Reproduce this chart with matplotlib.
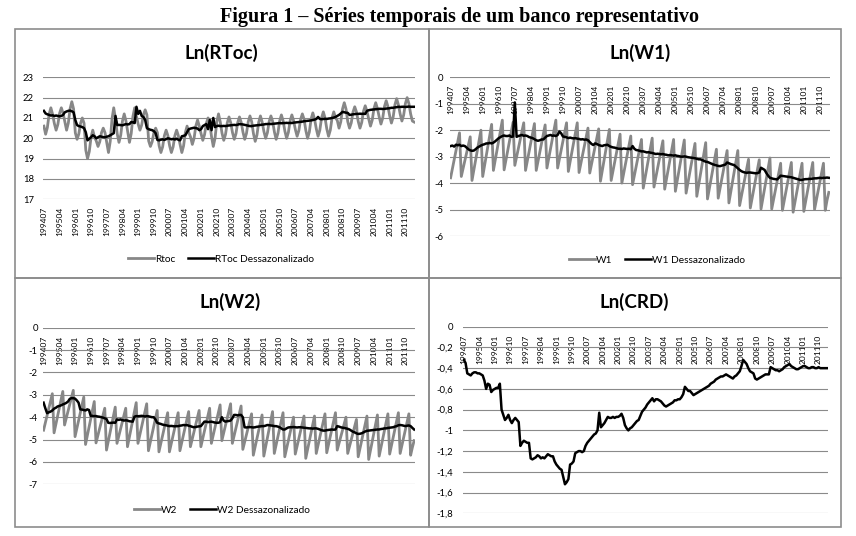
import matplotlib.pyplot as plt
from matplotlib.patches import Rectangle

# category labels shown on the x axis (every 9th month, 199407 .. 201110)
month_labels = ['199407', '199504', '199601', '199610', '199707', '199804',
                '199901', '199910', '200007', '200104', '200201', '200210',
                '200307', '200404', '200501', '200510', '200607', '200704',
                '200801', '200810', '200907', '201004', '201101', '201110']

# Ln(RToc) - monthly values, 199407 .. 201203
rtoc = [20.60, 20.20, 20.53, 21.18, 21.50, 21.18,
        20.73, 20.40, 20.68, 21.23, 21.50, 21.23,
        20.82, 20.40, 20.75, 21.45, 21.80, 21.45,
        20.27, 19.95, 20.21, 20.74, 21.00, 20.74,
        19.42, 19.00, 19.35, 20.05, 20.40, 20.05,
        19.87, 19.60, 19.83, 20.28, 20.50, 20.28,
        19.80, 19.30, 19.85, 20.95, 21.50, 20.95,
        20.22, 19.80, 20.15, 20.85, 21.20, 20.85,
        20.31, 19.80, 20.23, 21.08, 21.50, 21.08,
        20.70, 20.40, 20.65, 21.15, 21.40, 21.15,
        19.87, 19.60, 19.83, 20.28, 20.50, 20.28,
        19.63, 19.30, 19.58, 20.13, 20.40, 20.13,
        19.63, 19.30, 19.58, 20.13, 20.40, 20.13,
        19.69, 19.30, 19.63, 20.28, 20.60, 20.28,
        20.06, 19.70, 20.00, 20.60, 20.90, 20.60,
        20.23, 19.90, 20.18, 20.73, 21.00, 20.73,
        20.08, 19.60, 20.00, 20.80, 21.20, 20.80,
        20.25, 19.90, 20.19, 20.76, 21.05, 20.76,
        20.28, 19.95, 20.23, 20.78, 21.05, 20.78,
        20.30, 19.95, 20.24, 20.81, 21.10, 20.81,
        20.23, 19.85, 20.16, 20.79, 21.10, 20.79,
        20.33, 20.00, 20.28, 20.83, 21.10, 20.83,
        20.31, 19.95, 20.25, 20.85, 21.15, 20.85,
        20.35, 20.00, 20.29, 20.86, 21.15, 20.86,
        20.43, 20.10, 20.38, 20.93, 21.20, 20.93,
        20.38, 20.00, 20.31, 20.94, 21.25, 20.94,
        20.46, 20.10, 20.40, 21.00, 21.30, 21.00,
        20.46, 20.10, 20.40, 21.00, 21.30, 21.00,
        20.88, 20.50, 20.81, 21.44, 21.75, 21.44,
        20.82, 20.50, 20.76, 21.29, 21.55, 21.29,
        20.83, 20.50, 20.78, 21.33, 21.60, 21.33,
        20.95, 20.60, 20.89, 21.46, 21.75, 21.46,
        21.05, 20.70, 20.99, 21.56, 21.85, 21.56,
        21.11, 20.75, 21.05, 21.65, 21.95, 21.65,
        21.20, 20.85, 21.14, 21.71, 22.00, 21.71,
        21.20, 20.85, 20.80]

rtoc_sa = [21.35, 21.22, 21.18, 21.15, 21.12, 21.13,
           21.10, 21.12, 21.10, 21.08, 21.10, 21.15,
           21.28, 21.32, 21.35, 21.36, 21.33, 21.28,
           20.90, 20.65, 20.60, 20.58, 20.55, 20.50,
           20.30, 19.90, 19.98, 20.05, 20.15, 20.10,
           20.00, 20.05, 20.10, 20.08, 20.06, 20.05,
           20.08, 20.10, 20.15, 20.20, 20.25, 21.10,
           20.65, 20.66, 20.65, 20.64, 20.67, 20.70,
           20.68, 20.70, 20.80, 20.78, 20.75, 21.55,
           21.20, 21.35, 21.10, 21.05, 20.90, 20.50,
           20.45, 20.42, 20.40, 20.35, 20.25, 19.92,
           19.90, 19.93, 19.95, 19.92, 19.96, 20.00,
           19.98, 19.95, 19.97, 19.94, 19.98, 19.93,
           19.90, 20.10, 20.12, 20.15, 20.30, 20.45,
           20.48, 20.50, 20.52, 20.50, 20.48, 20.40,
           20.45, 20.60, 20.65, 20.70, 20.45, 20.90,
           20.40, 21.00, 20.55, 20.60, 20.62, 20.60,
           20.60, 20.61, 20.60, 20.62, 20.63, 20.64,
           20.65, 20.66, 20.65, 20.67, 20.70, 20.69,
           20.68, 20.66, 20.64, 20.62, 20.60, 20.60,
           20.62, 20.63, 20.64, 20.65, 20.66, 20.67,
           20.68, 20.70, 20.70, 20.71, 20.70, 20.71,
           20.72, 20.73, 20.74, 20.75, 20.74, 20.75,
           20.75, 20.76, 20.75, 20.76, 20.75, 20.77,
           20.78, 20.79, 20.80, 20.81, 20.82, 20.84,
           20.85, 20.86, 20.87, 20.88, 20.90, 20.92,
           20.95, 21.05, 20.95, 20.94, 20.95, 20.96,
           20.95, 20.97, 20.98, 21.00, 21.02, 21.05,
           21.10, 21.15, 21.22, 21.30, 21.28, 21.26,
           21.25, 21.15, 21.16, 21.18, 21.19, 21.20,
           21.20, 21.21, 21.20, 21.21, 21.20, 21.35,
           21.38, 21.40, 21.41, 21.42, 21.43, 21.44,
           21.45, 21.45, 21.44, 21.45, 21.46, 21.47,
           21.48, 21.50, 21.50, 21.52, 21.53, 21.55,
           21.54, 21.55, 21.55, 21.54, 21.55, 21.56,
           21.55, 21.55, 21.55]

# Ln(W1)
w1 = [-3.80, -3.46, -3.12, -2.78, -2.44, -2.10,
      -3.75, -3.45, -3.15, -2.85, -2.55, -2.25,
      -3.90, -3.52, -3.14, -2.76, -2.38, -2.00,
      -3.75, -3.36, -2.96, -2.57, -2.17, -1.78,
      -3.52, -3.14, -2.76, -2.38, -2.00, -1.62,
      -3.50, -3.14, -2.78, -2.42, -2.06, -1.70,
      -3.33, -3.01, -2.69, -2.36, -2.04, -1.72,
      -3.52, -3.17, -2.81, -2.46, -2.10, -1.75,
      -3.52, -3.18, -2.83, -2.49, -2.14, -1.80,
      -3.43, -3.07, -2.71, -2.34, -1.98, -1.62,
      -3.43, -3.09, -2.75, -2.40, -2.06, -1.72,
      -3.56, -3.19, -2.82, -2.46, -2.09, -1.72,
      -3.60, -3.26, -2.93, -2.59, -2.26, -1.92,
      -3.62, -3.29, -2.95, -2.62, -2.28, -1.95,
      -3.93, -3.54, -3.15, -2.75, -2.36, -1.97,
      -3.90, -3.55, -3.20, -2.85, -2.50, -2.15,
      -4.00, -3.64, -3.29, -2.93, -2.58, -2.22,
      -4.06, -3.72, -3.38, -3.03, -2.69, -2.35,
      -4.19, -3.81, -3.43, -3.06, -2.68, -2.30,
      -4.15, -3.80, -3.45, -3.10, -2.75, -2.40,
      -4.23, -3.85, -3.48, -3.10, -2.73, -2.35,
      -4.31, -3.92, -3.53, -3.15, -2.76, -2.37,
      -4.38, -4.00, -3.63, -3.25, -2.88, -2.50,
      -4.50, -4.09, -3.69, -3.28, -2.88, -2.47,
      -4.60, -4.22, -3.85, -3.47, -3.10, -2.72,
      -4.57, -4.21, -3.85, -3.49, -3.13, -2.77,
      -4.75, -4.35, -3.96, -3.56, -3.17, -2.77,
      -4.85, -4.50, -4.15, -3.80, -3.45, -3.10,
      -4.94, -4.58, -4.21, -3.85, -3.48, -3.12,
      -4.98, -4.59, -4.20, -3.82, -3.43, -3.05,
      -4.98, -4.63, -4.29, -3.94, -3.60, -3.25,
      -5.03, -4.67, -4.31, -3.94, -3.58, -3.22,
      -5.10, -4.73, -4.36, -3.99, -3.62, -3.25,
      -5.07, -4.70, -4.33, -3.96, -3.59, -3.22,
      -5.00, -4.65, -4.30, -3.95, -3.60, -3.25,
      -5.03, -4.65, -4.35]

w1_sa = [-2.60, -2.58, -2.62, -2.55, -2.57, -2.55,
         -2.60, -2.58, -2.60, -2.66, -2.72, -2.76,
         -2.78, -2.77, -2.72, -2.66, -2.62, -2.58,
         -2.55, -2.53, -2.50, -2.50, -2.48, -2.50,
         -2.47, -2.42, -2.36, -2.30, -2.26, -2.22,
         -2.20, -2.22, -2.22, -2.20, -2.25, -2.24,
         -0.95, -2.25, -2.22, -2.20, -2.18, -2.21,
         -2.20, -2.22, -2.26, -2.28, -2.30, -2.34,
         -2.38, -2.40, -2.38, -2.35, -2.35, -2.28,
         -2.22, -2.20, -2.18, -2.21, -2.20, -2.22,
         -2.18, -2.05, -2.12, -2.24, -2.25, -2.27,
         -2.30, -2.28, -2.30, -2.31, -2.30, -2.32,
         -2.33, -2.35, -2.34, -2.36, -2.35, -2.38,
         -2.45, -2.52, -2.56, -2.50, -2.52, -2.56,
         -2.58, -2.60, -2.57, -2.56, -2.55, -2.60,
         -2.63, -2.65, -2.66, -2.68, -2.70, -2.70,
         -2.71, -2.69, -2.70, -2.71, -2.70, -2.72,
         -2.60, -2.70, -2.75, -2.76, -2.78, -2.80,
         -2.80, -2.82, -2.84, -2.83, -2.85, -2.86,
         -2.88, -2.90, -2.89, -2.90, -2.91, -2.90,
         -2.92, -2.93, -2.95, -2.94, -2.95, -2.96,
         -2.95, -2.97, -2.98, -3.00, -3.00, -2.99,
         -3.00, -3.02, -3.03, -3.04, -3.05, -3.06,
         -3.08, -3.10, -3.10, -3.13, -3.16, -3.19,
         -3.20, -3.23, -3.26, -3.29, -3.31, -3.33,
         -3.35, -3.36, -3.34, -3.32, -3.30, -3.22,
         -3.25, -3.28, -3.30, -3.32, -3.38, -3.44,
         -3.50, -3.55, -3.58, -3.60, -3.61, -3.60,
         -3.60, -3.61, -3.62, -3.63, -3.62, -3.60,
         -3.42, -3.46, -3.50, -3.62, -3.72, -3.80,
         -3.82, -3.84, -3.85, -3.86, -3.80, -3.72,
         -3.73, -3.74, -3.75, -3.76, -3.77, -3.78,
         -3.80, -3.82, -3.84, -3.86, -3.88, -3.88,
         -3.86, -3.85, -3.85, -3.84, -3.84, -3.83,
         -3.82, -3.82, -3.81, -3.80, -3.81, -3.80,
         -3.80, -3.79, -3.80]

# Ln(W2)
w2 = [-4.58, -4.25, -3.93, -3.60, -3.28, -2.95,
      -4.70, -4.33, -3.96, -3.59, -3.22, -2.85,
      -4.35, -4.04, -3.73, -3.42, -3.11, -2.80,
      -4.87, -4.52, -4.16, -3.81, -3.45, -3.10,
      -5.22, -4.84, -4.45, -4.07, -3.68, -3.30,
      -5.15, -4.84, -4.53, -4.22, -3.91, -3.60,
      -5.47, -5.09, -4.70, -4.32, -3.93, -3.55,
      -5.17, -4.86, -4.54, -4.23, -3.91, -3.60,
      -5.32, -4.93, -4.53, -4.14, -3.74, -3.35,
      -5.17, -4.82, -4.46, -4.11, -3.75, -3.40,
      -5.50, -5.14, -4.78, -4.42, -4.06, -3.70,
      -5.55, -5.20, -4.85, -4.50, -4.15, -3.80,
      -5.55, -5.20, -4.85, -4.50, -4.15, -3.80,
      -5.50, -5.15, -4.80, -4.45, -4.10, -3.75,
      -5.32, -5.00, -4.67, -4.35, -4.02, -3.70,
      -5.32, -4.98, -4.63, -4.29, -3.94, -3.60,
      -5.17, -4.83, -4.48, -4.14, -3.79, -3.45,
      -5.05, -4.72, -4.39, -4.06, -3.73, -3.40,
      -5.17, -4.84, -4.50, -4.17, -3.83, -3.50,
      -5.44, -5.12, -4.80, -4.49, -4.17, -3.85,
      -5.70, -5.34, -4.98, -4.62, -4.26, -3.90,
      -5.74, -5.34, -4.94, -4.55, -4.15, -3.75,
      -5.62, -5.26, -4.89, -4.53, -4.16, -3.80,
      -5.77, -5.42, -5.06, -4.71, -4.35, -4.00,
      -5.65, -5.31, -4.97, -4.63, -4.29, -3.95,
      -5.84, -5.46, -5.08, -4.71, -4.33, -3.95,
      -5.62, -5.27, -4.91, -4.56, -4.20, -3.85,
      -5.59, -5.23, -4.87, -4.52, -4.16, -3.80,
      -5.47, -5.18, -4.88, -4.59, -4.29, -4.00,
      -5.62, -5.32, -5.01, -4.71, -4.40, -4.10,
      -5.77, -5.41, -5.04, -4.68, -4.31, -3.95,
      -5.89, -5.49, -5.09, -4.70, -4.30, -3.90,
      -5.74, -5.36, -4.98, -4.61, -4.23, -3.85,
      -5.65, -5.28, -4.91, -4.54, -4.17, -3.80,
      -5.62, -5.27, -4.91, -4.56, -4.20, -3.85,
      -5.70, -5.35, -5.05]

w2_sa = [-3.35, -3.60, -3.82, -3.78, -3.75, -3.70,
         -3.62, -3.58, -3.52, -3.50, -3.47, -3.43,
         -3.40, -3.36, -3.30, -3.18, -3.15, -3.15,
         -3.17, -3.25, -3.35, -3.65, -3.66, -3.68,
         -3.70, -3.65, -3.68, -3.95, -3.94, -3.95,
         -3.95, -3.97, -3.98, -4.00, -4.02, -4.05,
         -4.08, -4.25, -4.26, -4.25, -4.24, -4.25,
         -4.10, -4.12, -4.10, -4.13, -4.15, -4.14,
         -4.15, -4.18, -4.19, -4.20, -3.98, -3.95,
         -3.96, -3.95, -3.94, -3.95, -3.97, -3.95,
         -3.96, -3.98, -4.00, -4.00, -4.10, -4.25,
         -4.28, -4.30, -4.33, -4.35, -4.36, -4.38,
         -4.40, -4.39, -4.40, -4.41, -4.40, -4.40,
         -4.38, -4.37, -4.35, -4.36, -4.35, -4.38,
         -4.40, -4.43, -4.45, -4.44, -4.42, -4.41,
         -4.40, -4.30, -4.20, -4.20, -4.22, -4.21,
         -4.20, -4.22, -4.24, -4.25, -4.25, -4.22,
         -4.00, -4.15, -4.20, -4.18, -4.17, -4.15,
         -4.05, -3.90, -3.90, -3.92, -3.90, -3.90,
         -4.00, -4.45, -4.46, -4.45, -4.44, -4.45,
         -4.46, -4.45, -4.43, -4.42, -4.41, -4.40,
         -4.40, -4.38, -4.35, -4.36, -4.37, -4.38,
         -4.40, -4.40, -4.42, -4.45, -4.50, -4.55,
         -4.55, -4.50, -4.46, -4.45, -4.45, -4.44,
         -4.45, -4.46, -4.45, -4.45, -4.46, -4.47,
         -4.48, -4.49, -4.50, -4.50, -4.51, -4.50,
         -4.50, -4.52, -4.55, -4.58, -4.60, -4.60,
         -4.58, -4.57, -4.56, -4.55, -4.56, -4.55,
         -4.40, -4.42, -4.45, -4.47, -4.48, -4.50,
         -4.52, -4.55, -4.60, -4.65, -4.68, -4.72,
         -4.75, -4.74, -4.72, -4.68, -4.64, -4.61,
         -4.60, -4.59, -4.58, -4.57, -4.56, -4.55,
         -4.55, -4.53, -4.52, -4.50, -4.50, -4.48,
         -4.47, -4.46, -4.45, -4.42, -4.40, -4.36,
         -4.35, -4.36, -4.38, -4.40, -4.38, -4.37,
         -4.40, -4.48, -4.55]

# Ln(CRD)
crd = [-0.32, -0.35, -0.45, -0.46, -0.47, -0.45,
       -0.44, -0.44, -0.45, -0.45, -0.46, -0.47,
       -0.52, -0.60, -0.55, -0.56, -0.63, -0.61,
       -0.60, -0.59, -0.59, -0.55, -0.80, -0.85,
       -0.90, -0.88, -0.85, -0.90, -0.93, -0.90,
       -0.88, -0.90, -0.92, -1.15, -1.12, -1.10,
       -1.11, -1.12, -1.12, -1.27, -1.28, -1.27,
       -1.26, -1.24, -1.25, -1.27, -1.26, -1.27,
       -1.25, -1.23, -1.24, -1.25, -1.25, -1.30,
       -1.33, -1.35, -1.37, -1.38, -1.45, -1.52,
       -1.50, -1.47, -1.33, -1.32, -1.30, -1.22,
       -1.21, -1.20, -1.20, -1.21, -1.20, -1.15,
       -1.12, -1.10, -1.08, -1.06, -1.04, -1.03,
       -1.00, -0.83, -0.97, -0.95, -0.93, -0.90,
       -0.87, -0.88, -0.88, -0.87, -0.88, -0.87,
       -0.87, -0.86, -0.84, -0.88, -0.95, -0.98,
       -1.00, -0.98, -0.97, -0.95, -0.93, -0.91,
       -0.90, -0.86, -0.82, -0.80, -0.78, -0.75,
       -0.73, -0.71, -0.69, -0.72, -0.70, -0.70,
       -0.71, -0.72, -0.74, -0.76, -0.77, -0.76,
       -0.75, -0.74, -0.73, -0.71, -0.71, -0.70,
       -0.70, -0.68, -0.65, -0.58, -0.60, -0.62,
       -0.62, -0.64, -0.66, -0.65, -0.64, -0.63,
       -0.62, -0.61, -0.60, -0.59, -0.58, -0.57,
       -0.55, -0.54, -0.53, -0.51, -0.50, -0.49,
       -0.48, -0.48, -0.47, -0.46, -0.47, -0.48,
       -0.49, -0.50, -0.48, -0.47, -0.45, -0.43,
       -0.38, -0.32, -0.34, -0.36, -0.40, -0.43,
       -0.44, -0.45, -0.50, -0.51, -0.50, -0.49,
       -0.48, -0.47, -0.46, -0.46, -0.46, -0.39,
       -0.40, -0.41, -0.42, -0.42, -0.43, -0.42,
       -0.41, -0.39, -0.38, -0.37, -0.36, -0.38,
       -0.39, -0.40, -0.41, -0.41, -0.40, -0.39,
       -0.38, -0.38, -0.39, -0.40, -0.40, -0.39,
       -0.39, -0.40, -0.40, -0.39, -0.40, -0.40,
       -0.40, -0.40, -0.40]

W, H = 856, 536
GRAY = '#878787'
GRID = '#8a8a8a'
FONT = 'Lato'

fig = plt.figure(figsize=(W / 100, H / 100), dpi=100)


def frac(x0, y0, x1, y1):
    # pixel box (y measured from the top) -> figure fraction rect
    return [x0 / W, 1 - y1 / H, (x1 - x0) / W, (y1 - y0) / H]


def panel(px, lines, ylim, yticks, ylabels, axis_y, ypad):
    ax = fig.add_axes(frac(*px))
    # category axis crosses the value axis at axis_y (do this first, it resets the ticks)
    ax.spines['bottom'].set_position(('data', axis_y))
    for s in ax.spines.values():
        s.set_visible(False)
    n = len(lines[0][0])
    for vals, col, lw, lab in lines:
        ax.plot(range(n), vals, color=col, lw=lw, label=lab)
    ax.set_xlim(-0.5, n - 0.5)
    ax.set_ylim(*ylim)
    ax.set_yticks(yticks)
    ax.set_yticklabels(ylabels)
    ax.set_xticks(range(0, n, 9))
    ax.set_xticklabels(month_labels)
    ax.tick_params(axis='both', length=0, labelfontfamily=FONT)
    ax.tick_params(axis='y', pad=ypad, labelsize=6.8)
    ax.tick_params(axis='x', pad=5.5, labelsize=6.0, labelrotation=90)
    ax.grid(axis='y', color=GRID, lw=0.8)
    ax.set_axisbelow(True)
    ax.patch.set_alpha(0)
    return ax


# panel frames
for (x0, y0, x1, y1) in [(15, 29, 429, 278), (429, 29, 841, 278),
                         (15, 278, 429, 527), (429, 278, 841, 527)]:
    fig.patches.append(Rectangle((x0 / W, 1 - y1 / H), (x1 - x0) / W, (y1 - y0) / H,
                                 transform=fig.transFigure, fill=False,
                                 edgecolor='#8c8c8c', lw=1.2))

fig.text(460 / W, 1 - 17 / H, 'Figura 1 – Séries temporais de um banco representativo',
         ha='center', va='center', fontsize=14.5, fontweight='bold', family='Liberation Serif')

leg_kw = dict(loc='center', ncol=2, frameon=False, handlelength=2.5,
              handletextpad=0.1, columnspacing=1.3, prop={'family': FONT, 'size': 7.3},
              bbox_transform=fig.transFigure)

# Ln(RToc)
ax1 = panel((43, 77.3, 415, 199.3),
            [(rtoc, GRAY, 2.0, 'Rtoc'), (rtoc_sa, 'black', 1.8, 'RToc Dessazonalizado')],
            (17, 23), range(17, 24), [str(v) for v in range(17, 24)], 17, 6.5)
ax1.legend(bbox_to_anchor=(221 / W, 1 - 259 / H), **leg_kw)
fig.text(221 / W, 1 - 53 / H, 'Ln(RToc)', ha='center', va='center',
         fontsize=13.5, fontweight='bold', family=FONT)

# Ln(W1)
ax2 = panel((449.7, 77.3, 829.7, 236),
            [(w1, GRAY, 2.0, 'W1'), (w1_sa, 'black', 1.8, 'W1 Dessazonalizado')],
            (-6, 0), range(-6, 1), [str(v) for v in range(-6, 1)], 0, 4.5)
ax2.legend(bbox_to_anchor=(657 / W, 1 - 260 / H), **leg_kw)
fig.text(640 / W, 1 - 53 / H, 'Ln(W1)', ha='center', va='center',
         fontsize=13.5, fontweight='bold', family=FONT)

# Ln(W2)
ax3 = panel((42.7, 327.7, 415, 484.3),
            [(w2, GRAY, 2.0, 'W2'), (w2_sa, 'black', 1.8, 'W2 Dessazonalizado')],
            (-7, 0), range(-7, 1), [str(v) for v in range(-7, 1)], 0, 3.5)
ax3.legend(bbox_to_anchor=(222 / W, 1 - 510 / H), **leg_kw)
fig.text(230 / W, 1 - 302 / H, 'Ln(W2)', ha='center', va='center',
         fontsize=13.5, fontweight='bold', family=FONT)

# Ln(CRD)
crd_ticks = [-1.8, -1.6, -1.4, -1.2, -1.0, -0.8, -0.6, -0.4, -0.2, 0.0]
crd_labels = ['-1,8', '-1,6', '-1,4', '-1,2', '-1', '-0,8', '-0,6', '-0,4', '-0,2', '0']
ax4 = panel((463, 326.7, 828, 513.3), [(crd, 'black', 1.8, 'CRD')],
            (-1.8, 0), crd_ticks, crd_labels, 0, 7)
fig.text(634 / W, 1 - 302 / H, 'Ln(CRD)', ha='center', va='center',
         fontsize=13.5, fontweight='bold', family=FONT)

plt.savefig('out.png', dpi=100)
